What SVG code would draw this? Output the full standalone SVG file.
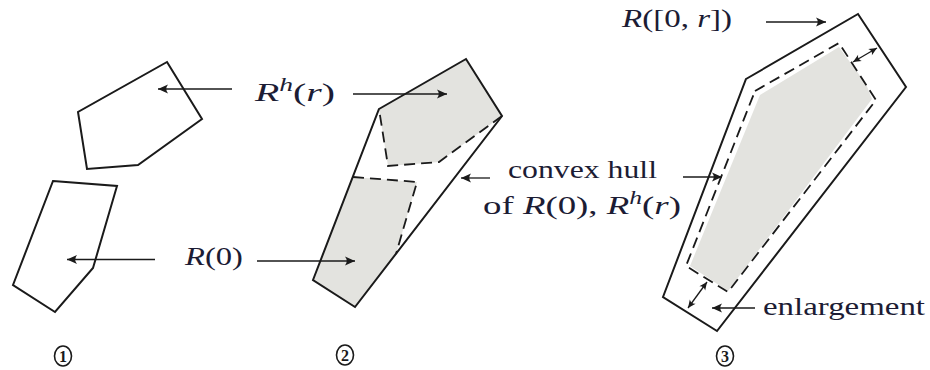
<svg xmlns="http://www.w3.org/2000/svg" width="930" height="370" viewBox="0 0 930 370">
<style>
.poly{fill:none;stroke:#1a1a1a;stroke-width:2;stroke-linejoin:miter}
.gray{fill:#e3e3df;stroke:none}
.dash{fill:none;stroke:#1a1a1a;stroke-width:1.8;stroke-dasharray:11 6}
.arr{fill:none;stroke:#1a1a1a;stroke-width:1.3;marker-end:url(#ah)}
.dbl{fill:none;stroke:#1a1a1a;stroke-width:1.3;marker-start:url(#sh);marker-end:url(#sh)}
.lbl{font-family:"Liberation Serif","DejaVu Serif",serif;font-size:26px;fill:#1c1c34}
.it{font-style:italic}
.num{font-family:"Liberation Serif","DejaVu Serif",serif;font-size:16px;font-weight:bold;fill:#1a1a1a;text-anchor:middle}
.circ{fill:none;stroke:#1a1a1a;stroke-width:1.6}
</style>
<defs>
<marker id="ah" viewBox="-11 -5 12 10" refX="0" refY="0" markerWidth="12" markerHeight="10" markerUnits="userSpaceOnUse" orient="auto">
<path d="M0,0 L-10,-4.5 Q-6.5,0 -10,4.5 Z" fill="#1a1a1a"/>
</marker>
<marker id="sh" viewBox="-9 -4 10 8" refX="0" refY="0" markerWidth="10" markerHeight="8" markerUnits="userSpaceOnUse" orient="auto-start-reverse">
<path d="M0,0 L-8,-3.6 Q-5,0 -8,3.6 Z" fill="#1a1a1a"/>
</marker>
</defs>

<g id="panel1">
<g id="p1-rh"><polygon class="poly" points="167,62 202,119 138,165 87,169 78,112"/></g>
<g id="p1-r0"><polygon class="poly" points="53,181 117,186 93,268 55,312 13,285"/></g>
</g>

<g id="panel2">
<polygon class="gray" points="379,109 466,59 502,116 439,162 388,166"/>
<polygon class="gray" points="353,177 417,182 396,254 355,307 313,280"/>
<path class="dash" d="M502,116 L439,162 L388,166 L379,109"/>
<path class="dash" d="M353,177 L417,182 L396,254"/>
<g id="p2-hull"><polygon class="poly" points="379,109 466,59 502,116 355,307 313,280"/></g>
</g>

<g id="panel3">
<polygon class="gray" points="760,95 839,47 866,84 872,99 728,291 690,266"/>
<polygon class="dash" points="755,91 839,43 876,100 728,292 686,266"/>
<g id="p3-hull"><polygon class="poly" points="746,79 858,14 906,87 717,331 663,297"/></g>
</g>

<g id="connectors">
<line class="arr" x1="232" y1="89" x2="158" y2="89"/>
<line class="arr" x1="353" y1="94" x2="447" y2="94"/>
<line class="arr" x1="155" y1="259.5" x2="67" y2="259.5"/>
<line class="arr" x1="257" y1="261" x2="355" y2="261"/>
<line class="arr" x1="490" y1="178" x2="461" y2="178"/>
<line class="arr" x1="683" y1="177" x2="722" y2="177"/>
<line class="arr" x1="766" y1="22" x2="826" y2="22"/>
<line class="arr" x1="755" y1="308" x2="712" y2="308"/>
<line class="dbl" x1="853" y1="62" x2="877" y2="48"/>
<line class="dbl" x1="707" y1="282" x2="688" y2="308"/>
</g>

<g id="labels">
<text class="lbl" x="255" y="101" textLength="80" lengthAdjust="spacingAndGlyphs"><tspan class="it">R</tspan><tspan class="it" font-size="18" dy="-10">h</tspan><tspan dy="10">(</tspan><tspan class="it">r</tspan>)</text>
<text class="lbl" x="185" y="265" textLength="58" lengthAdjust="spacingAndGlyphs"><tspan class="it">R</tspan>(0)</text>
<text class="lbl" x="508" y="178" textLength="149" lengthAdjust="spacingAndGlyphs">convex hull</text>
<text class="lbl" x="483" y="214" textLength="198" lengthAdjust="spacingAndGlyphs">of <tspan class="it">R</tspan>(0), <tspan class="it">R</tspan><tspan class="it" font-size="18" dy="-10">h</tspan><tspan dy="10">(</tspan><tspan class="it">r</tspan>)</text>
<text class="lbl" x="763" y="315" textLength="162" lengthAdjust="spacingAndGlyphs">enlargement</text>
<text class="lbl" x="622" y="27" textLength="110" lengthAdjust="spacingAndGlyphs"><tspan class="it">R</tspan>([0, <tspan class="it">r</tspan>])</text>
</g>

<g id="numbers">
<ellipse class="circ" cx="63" cy="356" rx="8.5" ry="10"/><text class="num" x="63" y="361.5">1</text>
<ellipse class="circ" cx="345" cy="355" rx="8.5" ry="10"/><text class="num" x="345" y="360.5">2</text>
<ellipse class="circ" cx="725" cy="356" rx="8.5" ry="10"/><text class="num" x="725" y="361.5">3</text>
</g>
</svg>
